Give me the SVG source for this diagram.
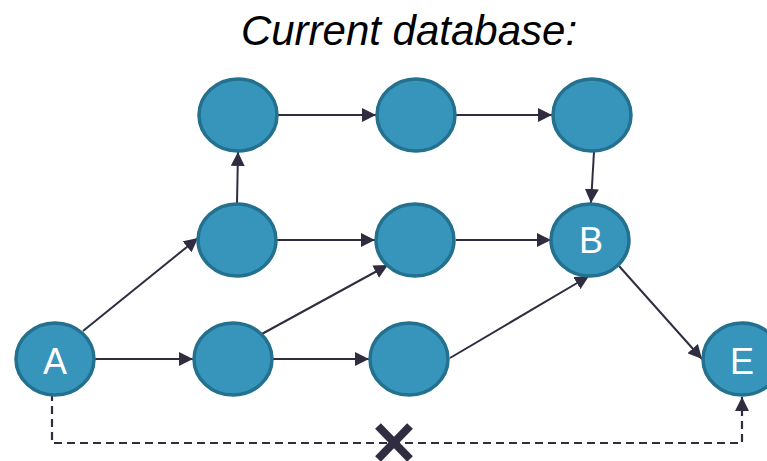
<svg xmlns="http://www.w3.org/2000/svg" width="767" height="461" viewBox="0 0 767 461">
<style>
.node{fill:#3795BC;stroke:#23708F;stroke-width:3.5}
.lbl{font-family:"Liberation Sans",Arial,sans-serif;font-size:36px;fill:#fff;text-anchor:middle}
.edge{stroke:#302D40;stroke-width:2;fill:none}
.dash{stroke:#302D40;stroke-width:2.2;fill:none;stroke-dasharray:8,5}
</style>
<defs>
<marker id="ah" viewBox="0 0 14 14" refX="14" refY="7" markerWidth="14" markerHeight="14" markerUnits="userSpaceOnUse" orient="auto">
<path d="M0,0 L14,7 L0,14 Z" fill="#302D40"/>
</marker>
</defs>
<rect width="767" height="461" fill="#fff"/>
<text x="409" y="45" font-family="Liberation Sans,Arial,sans-serif" font-size="42" font-style="italic" text-anchor="middle" fill="#000">Current database:</text>
<g id="connectors">
<line class="edge" x1="83" y1="331" x2="198" y2="238" marker-end="url(#ah)"/>
<line class="edge" x1="95" y1="359" x2="193" y2="359" marker-end="url(#ah)"/>
<line class="edge" x1="237" y1="203" x2="238" y2="152" marker-end="url(#ah)"/>
<line class="edge" x1="278" y1="115" x2="376" y2="115" marker-end="url(#ah)"/>
<line class="edge" x1="456" y1="115" x2="552" y2="115" marker-end="url(#ah)"/>
<line class="edge" x1="594" y1="152" x2="591" y2="203" marker-end="url(#ah)"/>
<line class="edge" x1="277" y1="240" x2="375" y2="240" marker-end="url(#ah)"/>
<line class="edge" x1="456" y1="240" x2="551" y2="240" marker-end="url(#ah)"/>
<line class="edge" x1="260" y1="335" x2="388" y2="265" marker-end="url(#ah)"/>
<line class="edge" x1="272" y1="359" x2="369" y2="359" marker-end="url(#ah)"/>
<line class="edge" x1="450" y1="358" x2="589" y2="276" marker-end="url(#ah)"/>
<line class="edge" x1="619" y1="266" x2="702" y2="359" marker-end="url(#ah)"/>
<path class="dash" d="M52,393 V443 H742 V397" marker-end="url(#ah)"/>
<g stroke="#302D40" stroke-width="8" stroke-linecap="butt">
<line x1="378" y1="426" x2="410" y2="459"/>
<line x1="410" y1="426" x2="378" y2="459"/>
</g>
</g>
<g id="n1"><ellipse class="node" cx="238" cy="115" rx="39" ry="36"/></g>
<g id="n2"><ellipse class="node" cx="416" cy="115" rx="39" ry="36"/></g>
<g id="n3"><ellipse class="node" cx="592" cy="115" rx="39" ry="36"/></g>
<g id="n4"><ellipse class="node" cx="237" cy="240" rx="39" ry="36"/></g>
<g id="n5"><ellipse class="node" cx="415" cy="240" rx="39" ry="36"/></g>
<g id="B"><ellipse class="node" cx="590" cy="240" rx="39" ry="36"/><text class="lbl" x="591" y="253">B</text></g>
<g id="A"><ellipse class="node" cx="55" cy="359" rx="39" ry="36"/><text class="lbl" x="55" y="374">A</text></g>
<g id="n6"><ellipse class="node" cx="233" cy="359" rx="39" ry="36"/></g>
<g id="n7"><ellipse class="node" cx="409" cy="359" rx="39" ry="36"/></g>
<g id="E"><ellipse class="node" cx="742" cy="359" rx="39" ry="36"/><text class="lbl" x="742" y="374">E</text></g>
</svg>
